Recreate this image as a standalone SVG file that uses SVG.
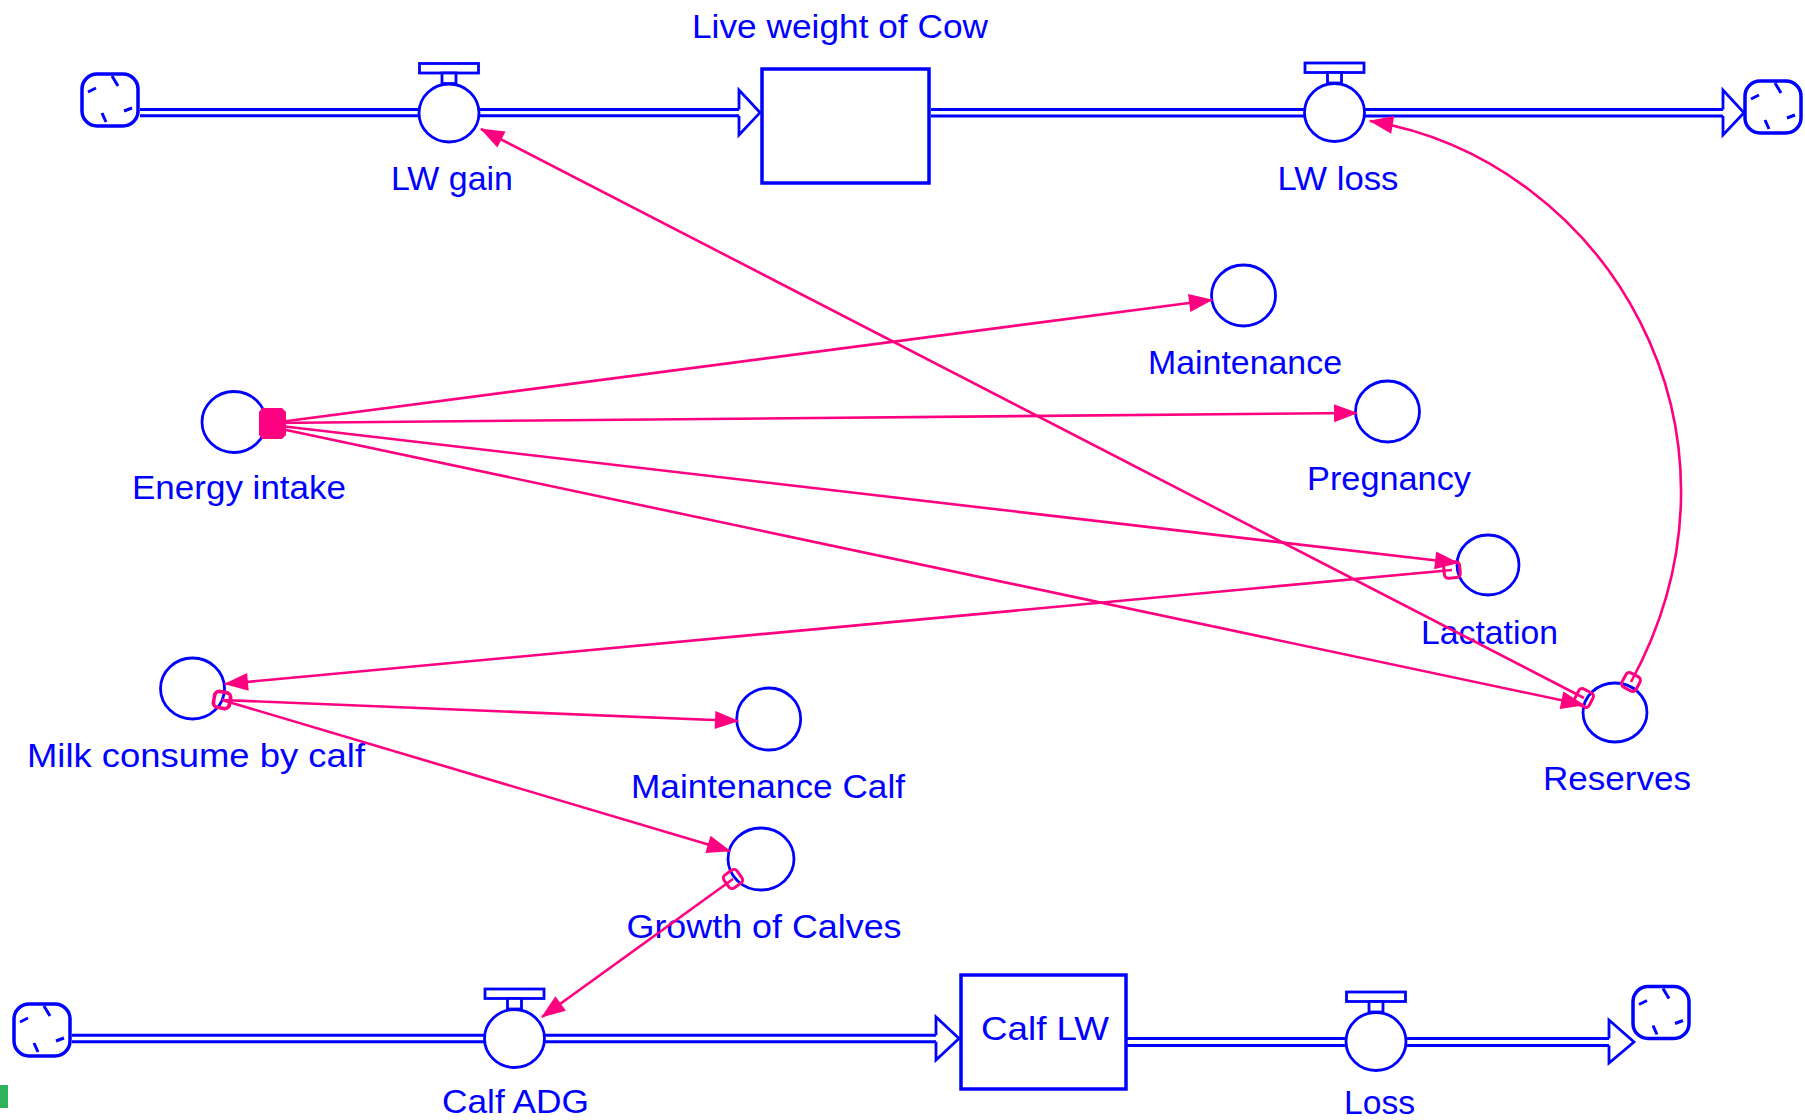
<svg xmlns="http://www.w3.org/2000/svg" xmlns:xlink="http://www.w3.org/1999/xlink" width="1805" height="1120" viewBox="0 0 1805 1120">
<style>
.pipe{stroke:#0000FF;stroke-width:3;fill:none}
.head{stroke:#0000FF;stroke-width:2.8;fill:#FFFFFF;stroke-linejoin:miter}
.stock{stroke:#0000FF;stroke-width:3.5;fill:#FFFFFF}
.aux{stroke:#0000FF;stroke-width:2.8;fill:#FFFFFF}
.lbl{font-family:"Liberation Sans",Arial,sans-serif;font-size:33px;fill:#0000FF;text-anchor:middle}
.link{stroke:#FF0080;stroke-width:2.6;fill:none;marker-end:url(#arrow)}
.from{marker-start:url(#origin)}
</style>
<defs>
<marker id="arrow" markerUnits="userSpaceOnUse" markerWidth="30" markerHeight="24" refX="23" refY="10" orient="auto" overflow="visible">
<path d="M0,1 L24,10 L0,19 Z" fill="#FF0080"/>
</marker>
<marker id="origin" markerUnits="userSpaceOnUse" markerWidth="20" markerHeight="20" refX="9" refY="9" orient="auto" overflow="visible">
<rect x="1" y="1" width="16" height="16" rx="4" fill="none" stroke="#FF0080" stroke-width="3"/>
</marker>
<g id="valve">
<ellipse cx="0" cy="0" rx="30" ry="29" class="aux"/>
<rect x="-29.5" y="-49.5" width="59" height="9.5" fill="#FFFFFF" stroke="#0000FF" stroke-width="2.8"/>
<rect x="-7" y="-40" width="14" height="10.5" fill="#FFFFFF" stroke="#0000FF" stroke-width="2.8"/>
</g>
<g id="cloud">
<rect x="-28" y="-26" width="56" height="52" rx="15" fill="#FFFFFF" stroke="#0000FF" stroke-width="3.5"/>
<path d="M2,-24 L8,-14 M-22,-8 L-14,-12 M22,8 L14,11 M-8,13 L-4,22" stroke="#0000FF" stroke-width="3" fill="none"/>
</g>
</defs>

<rect x="0" y="0" width="1805" height="1120" fill="#FFFFFF"/>

<g id="pipes">
<path class="pipe" d="M140,109.5 H739 M140,115.8 H739"/>
<path class="head" d="M739,109.5 V90 L760,112.6 L739,135 V115.8"/>
<path class="pipe" d="M931,109.5 H1723 M931,116 H1723"/>
<path class="head" d="M1723,109.5 V90 L1744,112.7 L1723,135 V116"/>
<path class="pipe" d="M72,1035.3 H936 M72,1041.7 H936"/>
<path class="head" d="M936,1035.3 V1017 L959,1038.5 L936,1060 V1041.7"/>
<path class="pipe" d="M1127,1038.5 H1609 M1127,1045.5 H1609"/>
<path class="head" d="M1609,1038.5 V1020 L1634,1042 L1609,1063 V1045.5"/>
</g>

<g id="cloud-source-cow"><use xlink:href="#cloud" x="110" y="100"/></g>
<g id="cloud-sink-cow"><use xlink:href="#cloud" x="1773" y="107"/></g>
<g id="cloud-source-calf"><use xlink:href="#cloud" x="42" y="1030"/></g>
<g id="cloud-sink-calf"><use xlink:href="#cloud" x="1661" y="1012.5"/></g>

<g id="live-weight-of-cow">
<rect class="stock" x="762" y="69" width="167" height="114"/>
<text class="lbl" x="840" y="38" textLength="296" lengthAdjust="spacingAndGlyphs">Live weight of Cow</text>
</g>
<g id="lw-gain">
<use xlink:href="#valve" x="449" y="113"/>
<text class="lbl" x="452" y="190" textLength="122" lengthAdjust="spacingAndGlyphs">LW gain</text>
</g>
<g id="lw-loss">
<use xlink:href="#valve" x="1334.5" y="112.5"/>
<text class="lbl" x="1338" y="190" textLength="121" lengthAdjust="spacingAndGlyphs">LW loss</text>
</g>
<g id="maintenance">
<ellipse class="aux" cx="1243.5" cy="295.5" rx="32" ry="30.5"/>
<text class="lbl" x="1245" y="374" textLength="194" lengthAdjust="spacingAndGlyphs">Maintenance</text>
</g>
<g id="pregnancy">
<ellipse class="aux" cx="1387.5" cy="411.5" rx="32" ry="30.5"/>
<text class="lbl" x="1389" y="490" textLength="164" lengthAdjust="spacingAndGlyphs">Pregnancy</text>
</g>
<g id="energy-intake">
<ellipse class="aux" cx="234" cy="422" rx="32" ry="30.5"/>
<text class="lbl" x="239" y="499" textLength="214" lengthAdjust="spacingAndGlyphs">Energy intake</text>
</g>
<g id="lactation">
<ellipse class="aux" cx="1488" cy="565" rx="31" ry="30"/>
<text class="lbl" x="1489.5" y="644" textLength="137" lengthAdjust="spacingAndGlyphs">Lactation</text>
</g>
<g id="reserves">
<ellipse class="aux" cx="1615" cy="712.5" rx="32" ry="29.5"/>
<text class="lbl" x="1617" y="790" textLength="148" lengthAdjust="spacingAndGlyphs">Reserves</text>
</g>
<g id="milk-consume-by-calf">
<ellipse class="aux" cx="192.5" cy="688.5" rx="32" ry="30.5"/>
<text class="lbl" x="196" y="767" textLength="338" lengthAdjust="spacingAndGlyphs">Milk consume by calf</text>
</g>
<g id="maintenance-calf">
<ellipse class="aux" cx="768.7" cy="719" rx="32" ry="31"/>
<text class="lbl" x="768" y="797.5" textLength="274" lengthAdjust="spacingAndGlyphs">Maintenance Calf</text>
</g>
<g id="growth-of-calves">
<ellipse class="aux" cx="761" cy="859" rx="33" ry="31"/>
<text class="lbl" x="764" y="937.5" textLength="275" lengthAdjust="spacingAndGlyphs">Growth of Calves</text>
</g>
<g id="calf-adg">
<use xlink:href="#valve" x="514.5" y="1038.5"/>
<text class="lbl" x="515.5" y="1113" textLength="147" lengthAdjust="spacingAndGlyphs">Calf ADG</text>
</g>
<g id="calf-lw">
<rect class="stock" x="961" y="975" width="165" height="114"/>
<text class="lbl" x="1045" y="1040" textLength="128" lengthAdjust="spacingAndGlyphs">Calf LW</text>
</g>
<g id="loss">
<use xlink:href="#valve" x="1376" y="1041.5"/>
<text class="lbl" x="1379.5" y="1114" textLength="71" lengthAdjust="spacingAndGlyphs">Loss</text>
</g>

<g id="connectors">
<path class="link" d="M272,423 L1212,300"/>
<path class="link" d="M272,423 L1357,413"/>
<path class="link" d="M272,425 L1458,563"/>
<path class="link" d="M272,427 L1584,705"/>
<path class="link from" d="M1452,570 L225,684"/>
<path class="link from" d="M222,700 L738,721"/>
<path class="link from" d="M222,700 L730,851"/>
<path class="link from" d="M733,879 L542,1017"/>
<path class="link from" d="M1584,698 L481,129"/>
<path class="link from" d="M1631,682 C1768,430 1605,160 1370,121"/>
<path d="M262,408 H282 L286,412 V435 L282,439 H262 L259,435 V412 Z" fill="#FF0080"/>
</g>

<rect x="0" y="1085" width="8" height="23" fill="#2EB35A"/>
</svg>
